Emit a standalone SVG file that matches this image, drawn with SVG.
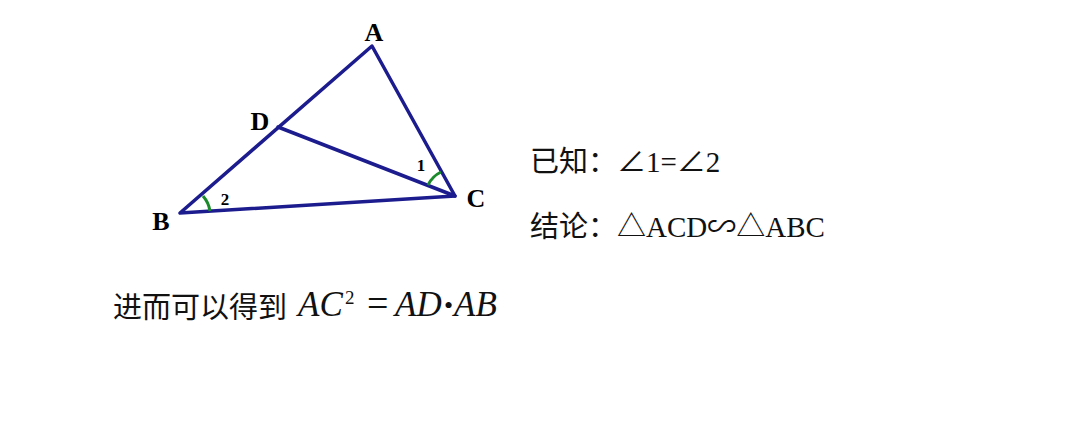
<svg xmlns="http://www.w3.org/2000/svg" width="1080" height="428" viewBox="0 0 1080 428">
<style>
.edge{stroke:#1c1c8f;stroke-width:3.5;fill:none;stroke-linecap:round;stroke-linejoin:round}
.arc{stroke:#1a8a2a;stroke-width:3;fill:none}
.lbl{font-family:"Liberation Serif",serif;font-weight:bold;font-size:26px;fill:#000}
.num{font-family:"Liberation Serif",serif;font-weight:bold;font-size:17px;fill:#000}
.txt{font-family:"Liberation Serif","Noto Sans CJK SC",serif;font-size:29px;fill:#111}
.math{font-family:"Liberation Serif",serif;font-style:italic;font-size:35px;fill:#111}
.up{font-family:"Liberation Serif",serif;fill:#111}
</style>
<rect width="1080" height="428" fill="#fff"/>
<g id="connectors">
<path class="edge" d="M372,46 L180,213 L455,196 Z"/>
<path class="edge" d="M278,127 L455,196"/>
</g>
<g id="angle-marks">
<path class="arc" d="M203,196 A30,30 0 0 1 210,211"/>
<path class="arc" d="M428,185 A28,28 0 0 1 441,172"/>
</g>
<g id="node-A"><text class="lbl" x="374" y="41" text-anchor="middle">A</text></g>
<g id="node-D"><text class="lbl" x="260" y="130" text-anchor="middle">D</text></g>
<g id="node-B"><text class="lbl" x="161" y="230" text-anchor="middle">B</text></g>
<g id="node-C"><text class="lbl" x="476" y="207" text-anchor="middle">C</text></g>
<g id="angle-1"><text class="num" x="421" y="171" text-anchor="middle">1</text></g>
<g id="angle-2"><text class="num" x="225" y="205" text-anchor="middle">2</text></g>
<g id="given"><text class="txt" x="530" y="172">已知：∠1=∠2</text></g>
<g id="conclusion"><text class="txt" x="530" y="237">结论：△ACD∽△ABC</text></g>
<g id="result">
<text class="txt" x="113" y="318">进而可以得到</text>
<text class="math" x="298" y="316">AC</text>
<text class="up" x="345" y="304" font-size="19">2</text>
<text class="up" x="367" y="316" font-size="38">=</text>
<text class="math" x="395" y="316">AD</text>
<text class="up" x="444" y="314" font-size="26">•</text>
<text class="math" x="454" y="316">AB</text>
</g>
</svg>
